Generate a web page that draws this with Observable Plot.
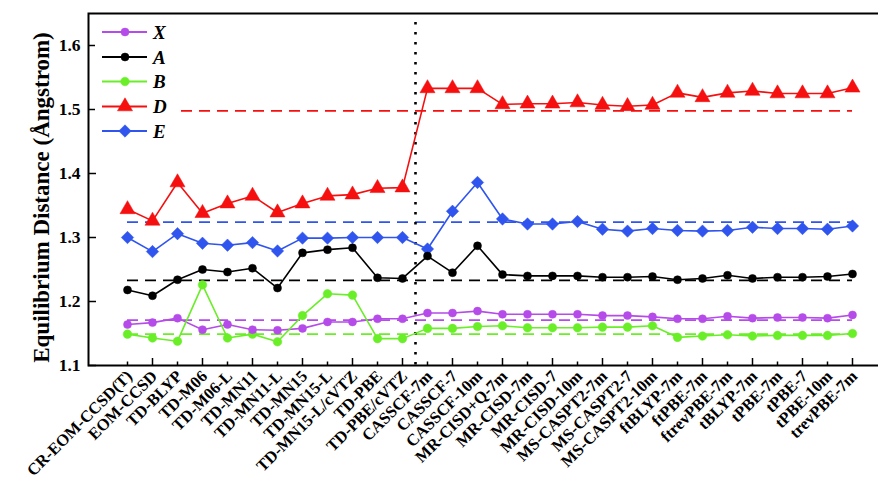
<!DOCTYPE html>
<html><head><meta charset="utf-8">
<script src="https://cdn.jsdelivr.net/npm/d3@7"></script>
<script src="https://cdn.jsdelivr.net/npm/@observablehq/plot@0.6"></script>
<style>
html,body{margin:0;padding:0;background:#fff;overflow:hidden;}
#wrap{position:relative;width:878px;height:483px;overflow:hidden;}
#wrap svg{display:block;}
#legend{position:absolute;left:0;top:0;}
</style></head><body><div id="wrap"></div>
<script>
const methods = ["CR-EOM-CCSD(T)","EOM-CCSD","TD-BLYP","TD-M06","TD-M06-L","TD-MN11","TD-MN11-L","TD-MN15","TD-MN15-L","TD-MN15-L/cVTZ","TD-PBE","TD-PBE/cVTZ","CASSCF-7m","CASSCF-7","CASSCF-10m","MR-CISD+Q-7m","MR-CISD-7m","MR-CISD-7","MR-CISD-10m","MS-CASPT2-7m","MS-CASPT2-7","MS-CASPT2-10m","ftBLYP-7m","ftPBE-7m","ftrevPBE-7m","tBLYP-7m","tPBE-7m","tPBE-7","tPBE-10m","trevPBE-7m"];
const seriesNames = ["X","A","B","D","E"];
const valuesX = [1.164,1.167,1.174,1.156,1.164,1.156,1.155,1.158,1.168,1.168,1.173,1.173,1.182,1.182,1.185,1.180,1.180,1.180,1.180,1.178,1.178,1.176,1.173,1.173,1.177,1.174,1.175,1.175,1.174,1.179];
const valuesA = [1.218,1.209,1.234,1.250,1.246,1.252,1.221,1.276,1.281,1.284,1.237,1.236,1.271,1.245,1.287,1.242,1.240,1.240,1.240,1.238,1.238,1.239,1.234,1.236,1.241,1.236,1.238,1.238,1.239,1.243];
const valuesB = [1.149,1.143,1.138,1.226,1.143,1.149,1.137,1.178,1.212,1.210,1.142,1.142,1.158,1.158,1.161,1.162,1.159,1.159,1.159,1.160,1.160,1.162,1.144,1.146,1.148,1.146,1.147,1.147,1.147,1.150];
const valuesD = [1.344,1.326,1.386,1.338,1.353,1.365,1.339,1.353,1.365,1.367,1.377,1.378,1.533,1.533,1.533,1.508,1.509,1.509,1.511,1.507,1.505,1.507,1.526,1.519,1.526,1.529,1.525,1.525,1.525,1.534];
const valuesE = [1.300,1.278,1.306,1.291,1.288,1.292,1.279,1.299,1.299,1.300,1.300,1.300,1.282,1.341,1.386,1.329,1.321,1.321,1.325,1.313,1.310,1.314,1.311,1.310,1.311,1.316,1.314,1.314,1.313,1.318];
const referenceValues = [1.171,1.233,1.149,1.498,1.324];
const yTicks = [1.1,1.2,1.3,1.4,1.5,1.6];
const dividerAfter = "TD-PBE/cVTZ";
const yTitle = "Equilibrium Distance (Ångstrom)";

const colors = ["#b54be8","#000000","#6aee28","#f50f0f","#2f55ee"];
const symbols = ["circle","circle","circle","triangle","diamond2"];
const sizes = {X:4, A:4, B:4.3, D:5.6, E:5.6};

const allValues = [valuesX, valuesA, valuesB, valuesD, valuesE];
const rows = [];
seriesNames.forEach((s, k) => allValues[k].forEach((v, i) => rows.push({series: s, method: methods[i], value: v})));
const refTable = seriesNames.map((s, k) => ({series: s, value: referenceValues[k]}));

const serif = "'Liberation Serif','Times New Roman',serif";

const chart = Plot.plot({
  width: 878, height: 483,
  marginTop: 13, marginBottom: 118, marginLeft: 88, marginRight: -12,
  style: {fontFamily: serif, fontWeight: "bold", background: "white", color: "black"},
  x: {type: "point", domain: methods, padding: 0.964},
  y: {domain: [1.1, 1.65]},
  color: {domain: seriesNames, range: colors},
  symbol: {domain: seriesNames, range: symbols},
  r: {type: "identity"},
  marks: [
    Plot.ruleY(refTable, {y: "value", x1: () => methods[0], x2: () => methods[methods.length - 1], stroke: "series", strokeWidth: 1.7, strokeDasharray: "11,7"}),
    Plot.ruleX([dividerAfter], {x: d => d, dx: 13, insetTop: 9, stroke: "black", strokeWidth: 2.6, strokeDasharray: "2.6,7.4"}),
    Plot.line(rows, {x: "method", y: "value", z: "series", stroke: "series", strokeWidth: 1.6}),
    Plot.dot(rows, {x: "method", y: "value", symbol: "series", fill: "series", stroke: "series", strokeWidth: 0.5, r: d => sizes[d.series]}),
    Plot.axisY(yTicks, {tickSize: -8, tickPadding: 16, tickFormat: d3.format(".1f"), fontSize: 17.5, label: null, strokeWidth: 1.5}),
    Plot.axisX(methods.filter((d, i) => i % 2 === 1), {tickSize: -7, tickFormat: () => "", label: null, strokeWidth: 1.5}),
    Plot.axisX(methods.filter((d, i) => i % 2 === 0), {tickSize: -3.5, tickFormat: () => "", label: null, strokeWidth: 1.5}),
    Plot.axisX(methods, {tickSize: 0, tickPadding: 8, tickRotate: -45, fontSize: 16.5, dx: 2, label: null}),
    Plot.text([yTitle], {frameAnchor: "left", textAnchor: "middle", rotate: -90, dx: -47, dy: 8, fontSize: 23, fontWeight: "bold", text: d => d}),
    Plot.frame({stroke: "black", strokeWidth: 2})
  ]
});
const wrap = document.getElementById("wrap");
wrap.appendChild(chart);

// legend overlay
const lg = d3.select(wrap).append("svg").attr("id", "legend").attr("width", 200).attr("height", 160);
lg.append("rect").attr("x", 95).attr("y", 19).attr("width", 80).attr("height", 124).attr("fill", "white");
const legendY = [32, 57, 81.5, 106.5, 131];
seriesNames.forEach((s, k) => {
  const g = lg.append("g").attr("transform", `translate(0,${legendY[k]})`);
  g.append("line").attr("x1", 102).attr("x2", 147).attr("y1", 0).attr("y2", 0).attr("stroke", colors[k]).attr("stroke-width", 1.8);
  const symType = symbols[k] === "triangle" ? d3.symbolTriangle : symbols[k] === "diamond2" ? d3.symbolDiamond2 : d3.symbolCircle;
  const r = sizes[s];
  g.append("path").attr("transform", "translate(125,0)").attr("d", d3.symbol(symType, Math.PI * r * r)()).attr("fill", colors[k]).attr("stroke", colors[k]).attr("stroke-width", 0.5);
  g.append("text").attr("x", 153).attr("y", 0).attr("dy", "0.35em").attr("font-family", serif).attr("font-weight", "bold").attr("font-style", "italic").attr("font-size", 19).text(s);
});
</script></body></html>
